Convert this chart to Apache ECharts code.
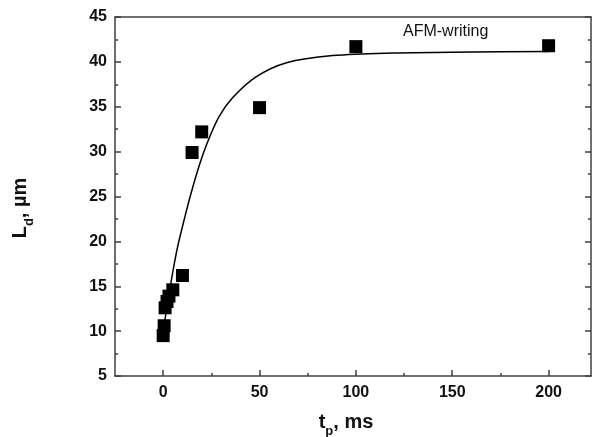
<!DOCTYPE html>
<html>
<head>
<meta charset="utf-8">
<script src="https://cdn.jsdelivr.net/npm/echarts@6/dist/echarts.min.js"></script>
<style>html,body{margin:0;padding:0;background:#fff;}#c{width:594px;height:437px;}</style>
</head>
<body>
<div id="c"></div>
<script>
// measured points
const tp = [0, 0.5, 1, 2, 3, 5, 10, 15, 20, 50, 100, 200];
const Ld = [9.5, 10.6, 12.6, 13.3, 13.9, 14.6, 16.2, 29.9, 32.2, 34.9, 41.7, 41.8];
// fitted curve
const fitX = [0, 1.5, 3.2, 5, 7.5, 11, 14.4, 18.8, 23.1, 29, 36, 48, 64, 88, 120, 160, 200];
const fitY = [9.9, 12.1, 14.3, 16.6, 19.4, 22.5, 25.3, 28.5, 31.1, 33.9, 36.0, 38.3, 39.9, 40.7, 41.0, 41.1, 41.15];
// ticks
const xMajor = [0, 50, 100, 150, 200];
const xMinor = [25, 75, 125, 175];
const annotation = 'AFM-writing';

const chart = echarts.init(document.getElementById('c'));
const axisCol = '#404040';
const font = '"Liberation Sans", Arial, sans-serif';
const baseX = {
  type: 'value', min: -25, max: 222, interval: 25,
  splitLine: {show: false}
};
chart.setOption({
  animation: false,
  grid: {left: 115, top: 17, width: 476, height: 359},
  xAxis: [
    Object.assign({}, baseX, {
      position: 'bottom',
      axisLine: {show: true, onZero: false, lineStyle: {color: axisCol, width: 1.5}},
      axisTick: {show: true, inside: true, length: 6, customValues: xMajor, lineStyle: {color: axisCol, width: 1.5}},
      axisLabel: {customValues: xMajor, margin: 9, color: '#111', fontSize: 16, fontWeight: 'bold', fontFamily: font}
    }),
    Object.assign({}, baseX, {
      position: 'bottom',
      axisLine: {show: false, onZero: false},
      axisTick: {show: true, inside: true, length: 3, customValues: xMinor, lineStyle: {color: axisCol, width: 1.5}},
      axisLabel: {show: false}
    }),
    Object.assign({}, baseX, {
      position: 'top',
      axisLine: {show: true, onZero: false, lineStyle: {color: axisCol, width: 1.5}},
      axisTick: {show: false},
      axisLabel: {show: false}
    })
  ],
  yAxis: [
    {
      type: 'value', min: 5, max: 45, interval: 5, position: 'left',
      splitLine: {show: false},
      axisLine: {show: true, onZero: false, lineStyle: {color: axisCol, width: 1.5}},
      axisTick: {show: true, inside: true, length: 6, lineStyle: {color: axisCol, width: 1.5}},
      minorTick: {show: true, splitNumber: 2, length: 3, lineStyle: {color: axisCol, width: 1.5}},
      axisLabel: {margin: 8, color: '#111', fontSize: 16, fontWeight: 'bold', fontFamily: font}
    },
    {
      type: 'value', min: 5, max: 45, interval: 5, position: 'right',
      splitLine: {show: false},
      axisLine: {show: true, onZero: false, lineStyle: {color: axisCol, width: 1.5}},
      axisTick: {show: true, inside: true, length: 6, lineStyle: {color: axisCol, width: 1.5}},
      minorTick: {show: true, splitNumber: 2, length: 3, lineStyle: {color: axisCol, width: 1.5}},
      axisLabel: {show: false}
    }
  ],
  series: [
    {
      type: 'line', xAxisIndex: 0, yAxisIndex: 0,
      data: fitX.map((x, i) => [x, fitY[i]]),
      smooth: 0.35, showSymbol: false,
      lineStyle: {color: '#000', width: 1.5}, z: 2
    },
    {
      type: 'scatter', xAxisIndex: 0, yAxisIndex: 0,
      data: tp.map((x, i) => [x, Ld[i]]),
      symbol: 'rect', symbolSize: 13,
      itemStyle: {color: '#000', opacity: 1}, z: 3
    }
  ],
  graphic: [
    {
      type: 'text', left: 403, top: 24,
      style: {text: annotation, fontSize: 16, fontFamily: font, fill: '#111'}
    },
    {
      type: 'text', x: 346, y: 420,
      style: {
        text: '{a|t}{b|p}{a|, ms}', align: 'center', verticalAlign: 'middle',
        rich: {
          a: {fontSize: 20, fontWeight: 'bold', fontFamily: font, fill: '#111', lineHeight: 24, verticalAlign: 'bottom'},
          b: {fontSize: 13, fontWeight: 'bold', fontFamily: font, fill: '#111', lineHeight: 24, verticalAlign: 'bottom', padding: [0, 0, -6, 0]}
        }
      }
    },
    {
      type: 'text', x: 18, y: 208, rotation: Math.PI / 2,
      style: {
        text: '{a|L}{b|d}{a|, µm}', align: 'center', verticalAlign: 'middle',
        rich: {
          a: {fontSize: 20, fontWeight: 'bold', fontFamily: font, fill: '#111', lineHeight: 24, verticalAlign: 'bottom'},
          b: {fontSize: 13, fontWeight: 'bold', fontFamily: font, fill: '#111', lineHeight: 24, verticalAlign: 'bottom', padding: [0, 0, -6, 0]}
        }
      }
    }
  ]
});
</script>
</body>
</html>
